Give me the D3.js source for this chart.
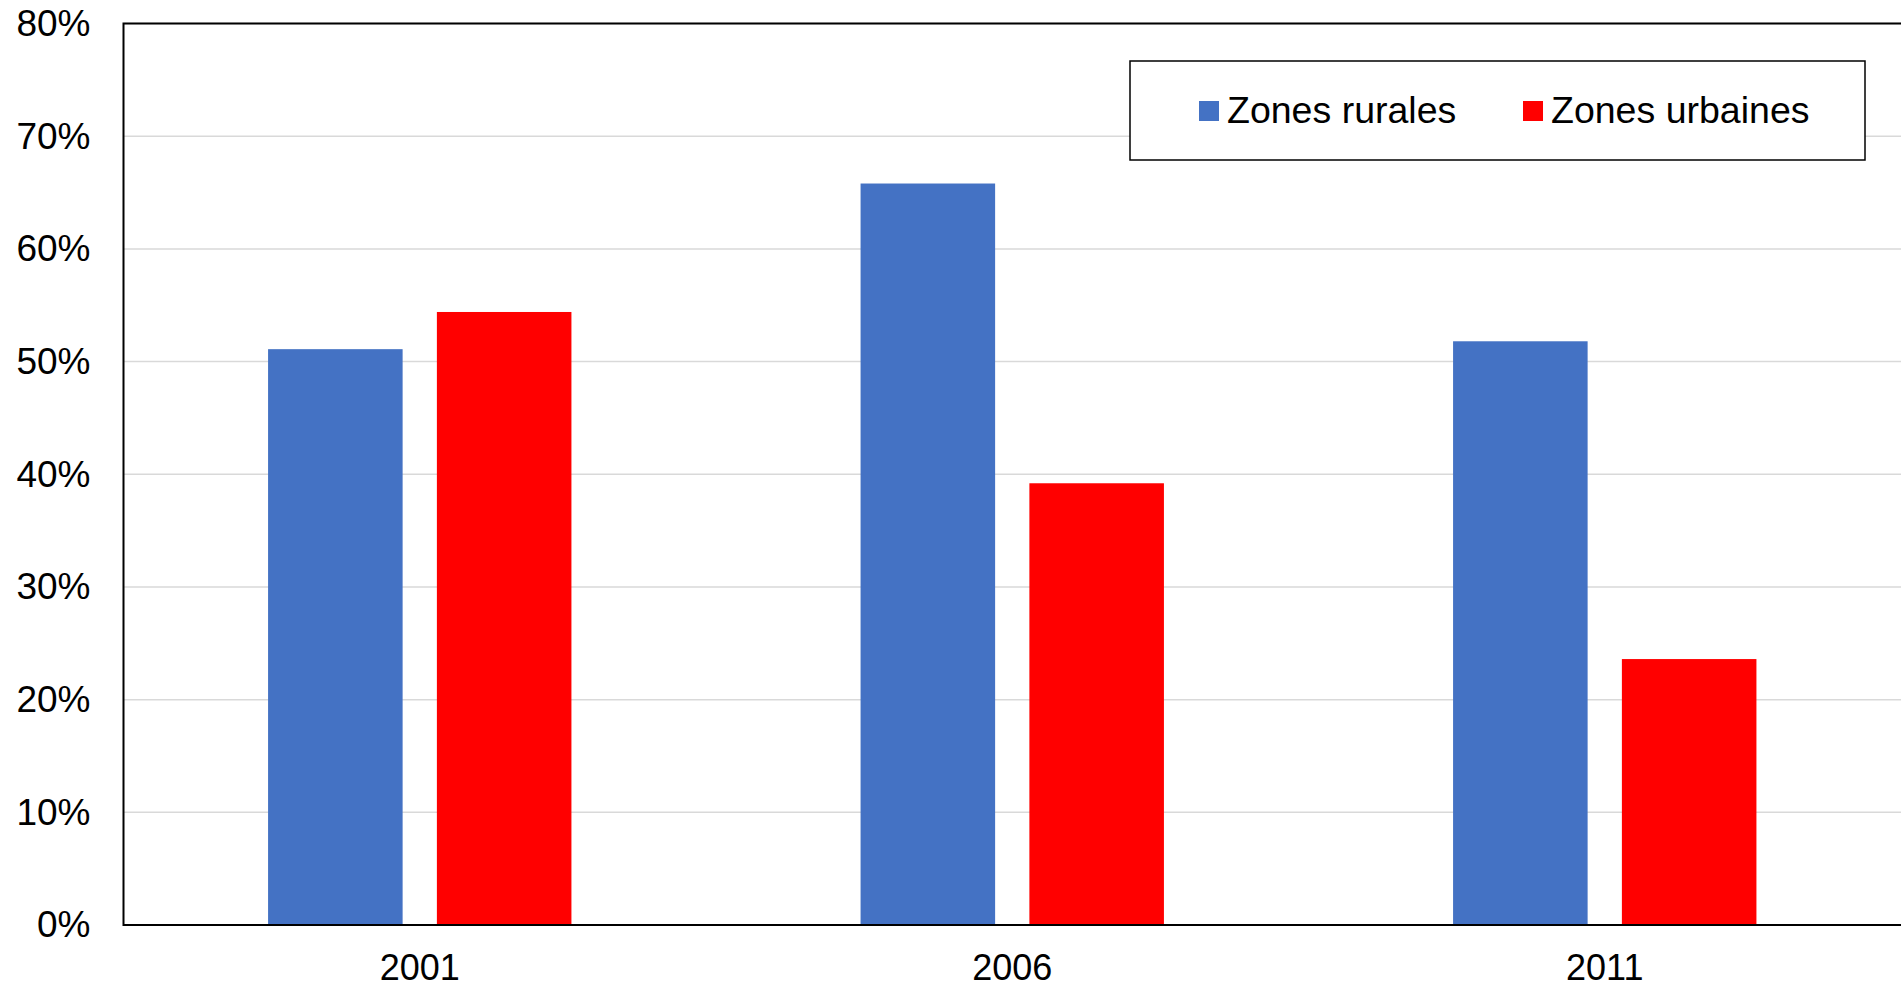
<!DOCTYPE html>
<html>
<head>
<meta charset="utf-8">
<script src="https://cdn.jsdelivr.net/npm/d3@7"></script>
<style>
    body { margin: 0; background: #fff; }
    svg { display: block; font-family: "Liberation Sans", Arial, sans-serif; }
</style>
</head>
<body>
<div id="chart"></div>
<script>
// Data
const years = ['2001', '2006', '2011'];
const seriesNames = ['Zones rurales', 'Zones urbaines'];
const rural = [0.511, 0.658, 0.518];
const urban = [0.544, 0.392, 0.236];
const yTicks = [0, 0.1, 0.2, 0.3, 0.4, 0.5, 0.6, 0.7, 0.8];
const colors = ['#4472C4', '#FF0000'];

const width = 1901, height = 988;
const plot = { left: 123.5, top: 23.5, right: 1901, bottom: 925 };

const svg = d3.select('#chart')
    .append('svg')
    .attr('width', width)
    .attr('height', height);

const y = d3.scaleLinear()
    .domain([0, 0.8])
    .range([plot.bottom, plot.top]);

// categories spaced evenly, bars grouped in the middle of each slot
const x0 = d3.scaleBand()
    .domain(years)
    .range([plot.left, plot.right])
    .paddingInner(0.488)
    .paddingOuter(0.244);

const x1 = d3.scaleBand()
    .domain(seriesNames)
    .range([0, x0.bandwidth()])
    .paddingInner(0.203);

// gridlines
svg.append('g')
    .selectAll('line')
    .data(yTicks.slice(1))
    .enter()
    .append('line')
    .attr('x1', plot.left)
    .attr('x2', plot.right)
    .attr('y1', d => y(d))
    .attr('y2', d => y(d))
    .attr('stroke', '#d9d9d9')
    .attr('stroke-width', 1.5);

// bars
const rows = years.map((yr, i) => ({ year: yr, values: [rural[i], urban[i]] }));

svg.append('g')
    .selectAll('g')
    .data(rows)
    .enter()
    .append('g')
    .attr('transform', d => `translate(${x0(d.year)},0)`)
    .selectAll('rect')
    .data(d => d.values.map((v, j) => ({ name: seriesNames[j], value: v, color: colors[j] })))
    .enter()
    .append('rect')
    .attr('x', d => x1(d.name))
    .attr('width', x1.bandwidth())
    .attr('y', d => y(d.value))
    .attr('height', d => plot.bottom - y(d.value))
    .attr('fill', d => d.color);

// frame: top, left, bottom
svg.append('path')
    .attr('d', `M${plot.right},${plot.top}H${plot.left}V${plot.bottom}H${plot.right}`)
    .attr('fill', 'none')
    .attr('stroke', '#000')
    .attr('stroke-width', 2);

// y axis labels
const yAxis = d3.axisLeft(y)
    .tickValues(yTicks)
    .tickFormat(d3.format('.0%'))
    .tickSize(0)
    .tickPadding(33);

svg.append('g')
    .attr('transform', `translate(${plot.left},0)`)
    .call(yAxis)
    .call(g => g.select('.domain').remove())
    .selectAll('text')
    .attr('font-family', '"Liberation Sans", Arial, sans-serif')
    .attr('font-size', 37)
    .attr('fill', '#000');

// x axis labels (kept just inside the bottom edge)
const xAxis = d3.axisBottom(x0)
    .tickSize(0)
    .tickPadding(29);

svg.append('g')
    .attr('transform', `translate(0,${plot.bottom})`)
    .call(xAxis)
    .call(g => g.select('.domain').remove())
    .selectAll('text')
    .attr('font-family', '"Liberation Sans", Arial, sans-serif')
    .attr('font-size', 36)
    .attr('fill', '#000');

// legend
const legend = svg.append('g');
legend.append('rect')
    .attr('x', 1130)
    .attr('y', 61)
    .attr('width', 735)
    .attr('height', 99)
    .attr('fill', '#fff')
    .attr('stroke', '#000')
    .attr('stroke-width', 1.5);

const legendX = [1199, 1523];
const items = legend.selectAll('g.item')
    .data(seriesNames)
    .enter()
    .append('g')
    .attr('class', 'item')
    .attr('transform', (d, i) => `translate(${legendX[i]},0)`);

items.append('rect')
    .attr('x', 0)
    .attr('y', 101)
    .attr('width', 20)
    .attr('height', 20)
    .attr('fill', (d, i) => colors[i]);

items.append('text')
    .attr('x', 28)
    .attr('y', 123)
    .attr('font-size', 37.5)
    .attr('fill', '#000')
    .text(d => d);
</script>
</body>
</html>
